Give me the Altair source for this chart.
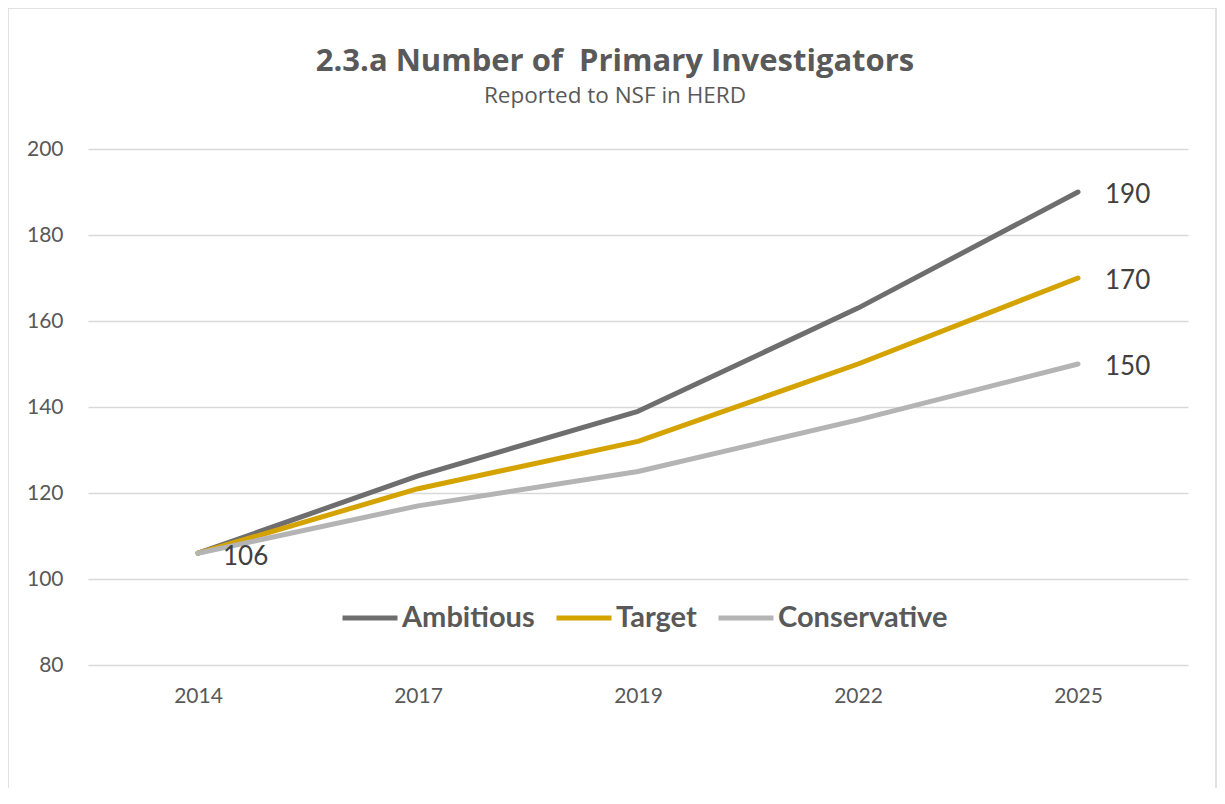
import altair as alt
import pandas as pd

years = ["2014", "2017", "2019", "2022", "2025"]
series = ["Ambitious", "Target", "Conservative"]
ambitious = [106, 124, 139, 163, 190]
target = [106, 121, 132, 150, 170]
conservative = [106, 117, 125, 137, 150]
colors = ["#6e6e6e", "#d4a300", "#b4b4b4"]

rows = []
for name, vals in zip(series, [ambitious, target, conservative]):
    for y, v in zip(years, vals):
        rows.append({"Year": y, "Series": name, "Value": v})
df = pd.DataFrame(rows)

FONT = "Lato"
TFONT = "Open Sans"
GREY = "#595959"

x = alt.X("Year:N", sort=years, scale=alt.Scale(domain=years, padding=0.5),
          axis=alt.Axis(title=None, labelAngle=0, domain=False, ticks=False, grid=False,
                        labelFontSize=21, labelColor=GREY, labelFont=FONT, labelPadding=20))
y = alt.Y("Value:Q", scale=alt.Scale(domain=[80, 200], nice=False, zero=False),
          axis=alt.Axis(title=None, values=[80, 100, 120, 140, 160, 180, 200], domain=False,
                        ticks=False, gridColor="#d9d9d9", gridWidth=1.5,
                        labelFontSize=21, labelColor=GREY, labelFont=FONT, labelPadding=25))
color = alt.Color("Series:N", sort=series,
                  scale=alt.Scale(domain=series, range=colors),
                  legend=alt.Legend(title=None, orient="none", direction="horizontal",
                                    legendX=252, legendY=439,
                                    symbolType="stroke", symbolSize=3025, symbolStrokeWidth=5,
                                    labelFontSize=29, labelFontWeight="bold", labelColor=GREY,
                                    labelFont=FONT, labelOffset=2, columnPadding=11,
                                    labelLimit=300))

lines = alt.Chart(df).mark_line(strokeWidth=5, strokeCap="round", strokeJoin="round").encode(
    x=x, y=y, color=color, order=alt.Order("Series:N")
)

end_labels = alt.Chart(df).transform_filter(alt.datum.Year == "2025").mark_text(
    align="left", baseline="middle", dx=27, dy=3, fontSize=26, font=FONT, color="#404040"
).encode(x=alt.X("Year:N", sort=years), y="Value:Q", text="Value:Q")

start_label = alt.Chart(df).transform_filter(
    (alt.datum.Year == "2014") & (alt.datum.Series == "Ambitious")
).mark_text(
    align="left", baseline="middle", dx=25, dy=4, fontSize=26, font=FONT, color="#404040"
).encode(x=alt.X("Year:N", sort=years), y="Value:Q", text="Value:Q")

frame_df = pd.DataFrame({"k": [0]})
frame_left = alt.Chart(frame_df).mark_rule(color="#d9d9d9", strokeWidth=1.5).encode(
    x=alt.value(-80), y=alt.value(-141), y2=alt.value(700))
frame_top = alt.Chart(frame_df).mark_rule(color="#d9d9d9", strokeWidth=1.5).encode(
    x=alt.value(-80), x2=alt.value(1128), y=alt.value(-141))
frame_right = alt.Chart(frame_df).mark_rule(color="#d9d9d9", strokeWidth=1.5).encode(
    x=alt.value(1128), y=alt.value(-141), y2=alt.value(700))

chart = alt.layer(frame_left, frame_top, frame_right, lines, end_labels, start_label).properties(
    width=1100, height=516,
    title=alt.TitleParams(
        text="2.3.a Number of \u00a0Primary Investigators",
        subtitle="Reported to NSF in HERD",
        anchor="middle", frame="group", dx=-23, dy=141, offset=40,
        font=TFONT, fontSize=31, fontWeight="bold", color=GREY,
        subtitleFont=TFONT, subtitleFontSize=22.5, subtitleColor=GREY, subtitlePadding=7,
    ),
    autosize=alt.AutoSizeParams(type="none"),
    padding={"left": 80, "top": 141, "right": 29, "bottom": 123},
).configure(background="white").configure_view(stroke=None, strokeWidth=0)

chart.save("out.html", embed_options={"renderer": "svg", "actions": False})
